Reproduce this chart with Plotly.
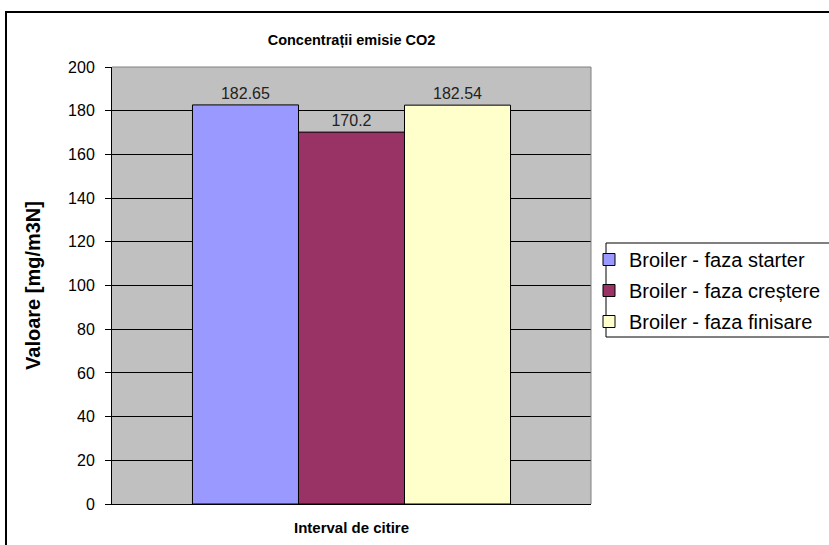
import plotly.graph_objects as go

categories = ["Interval de citire"]
series_names = ["Broiler - faza starter", "Broiler - faza creștere", "Broiler - faza finisare"]
series_values = [[182.65], [170.2], [182.54]]
series_colors = ["#9999FF", "#993366", "#FFFFCC"]
y_ticks = [0, 20, 40, 60, 80, 100, 120, 140, 160, 180, 200]

W, H = 829, 545
L, R, T, B = 112, 238, 67, 41
pw, ph = W - L - R, H - T - B

def px(x):
    return (x - L) / pw

def py(y):
    return (H - B - y) / ph

FONT = "Liberation Sans, Arial, sans-serif"

fig = go.Figure()
for name, vals, col in zip(series_names, series_values, series_colors):
    fig.add_trace(go.Bar(
        x=categories, y=vals, name=name, legendgroup=name,
        marker=dict(color=col, line=dict(color="#000000", width=1)),
        texttemplate="%{y}", textposition="outside",
        textfont=dict(family=FONT, size=16, color="#222222"),
        cliponaxis=False,
    ))

fig.update_layout(
    width=W, height=H,
    margin=dict(l=L, r=R, t=T, b=B, autoexpand=False),
    paper_bgcolor="white", plot_bgcolor="#C0C0C0",
    barmode="group", bargap=0.336, bargroupgap=0,
    showlegend=True,
    title=dict(text="<b>Concentrații emisie CO2</b>", x=0.5, xref="paper",
               y=1 - 40 / H, yref="container", yanchor="middle", xanchor="center",
               font=dict(family=FONT, size=14.5, color="#000000")),
    font=dict(family=FONT, color="#000000"),
    legend=dict(x=px(589), xanchor="left", y=py(240), yanchor="top",
                font=dict(family=FONT, size=20, color="#000000"),
                bgcolor="rgba(0,0,0,0)", traceorder="grouped", tracegroupgap=2,
                itemclick=False),
    xaxis=dict(showticklabels=False, ticks="", showgrid=False,
               showline=True, linecolor="#000000", linewidth=1,
               title=dict(text="<b>Interval de citire</b>", standoff=18,
                          font=dict(family=FONT, size=15, color="#000000"))),
    yaxis=dict(range=[0, 200], tickvals=y_ticks, ticks="outside", ticklen=6,
               tickcolor="#000000", showgrid=True, gridcolor="#000000", gridwidth=1,
               showline=True, linecolor="#000000", linewidth=1, zeroline=False,
               ticklabelstandoff=7,
               tickfont=dict(family=FONT, size=16, color="#000000"),
               title=dict(text="<b>Valoare [mg/m3N]</b>", standoff=22,
                          font=dict(family=FONT, size=20, color="#000000"))),
)

# plot-area frame (top/right in gray)
fig.add_shape(type="line", xref="paper", yref="paper", x0=0, x1=1, y0=1, y1=1,
              line=dict(color="#808080", width=1))
fig.add_shape(type="line", xref="paper", yref="paper", x0=1, x1=1, y0=0, y1=1,
              line=dict(color="#808080", width=1))
# legend box
fig.add_shape(type="rect", xref="paper", yref="paper",
              x0=px(606), x1=px(845), y0=py(337), y1=py(243),
              line=dict(color="#000000", width=1), fillcolor="rgba(0,0,0,0)")
# outer chart border
fig.add_shape(type="rect", xref="paper", yref="paper",
              x0=px(6), x1=px(860), y0=py(580), y1=py(12),
              line=dict(color="#000000", width=2), fillcolor="rgba(0,0,0,0)")

fig.write_html("out.html")
